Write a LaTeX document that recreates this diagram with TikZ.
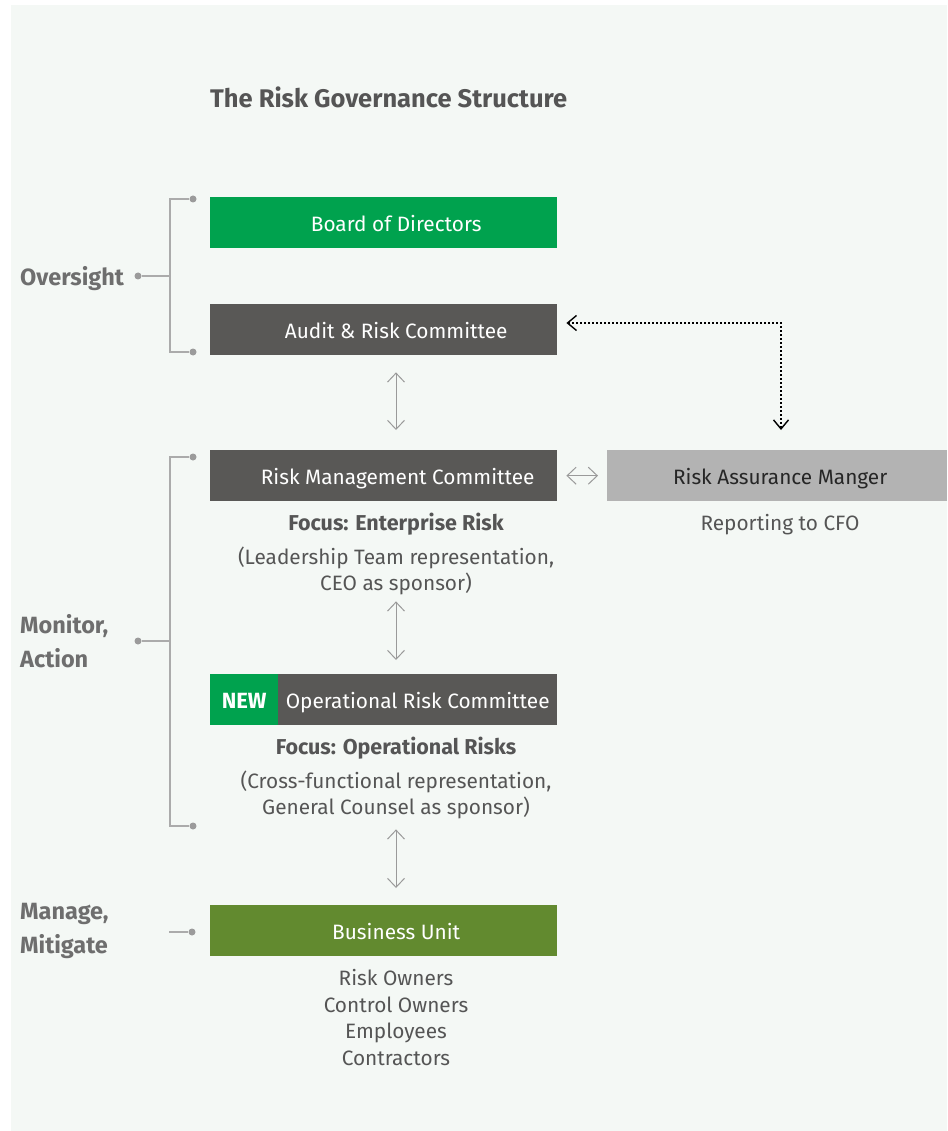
\documentclass[tikz,border=0pt]{standalone}
\usepackage{fontspec}
\setmainfont{Fira Sans}
\usetikzlibrary{arrows.meta}
\definecolor{bgc}{HTML}{F4F8F5}
\definecolor{gr}{HTML}{00A24E}
\definecolor{dk}{HTML}{595856}
\definecolor{lgb}{HTML}{B3B3B3}
\definecolor{ol}{HTML}{628A2F}
\definecolor{tx}{HTML}{555555}
\definecolor{lab}{HTML}{6E6E6E}
\definecolor{ln}{HTML}{ABABAB}
\definecolor{dotc}{HTML}{9B9B9B}
\definecolor{arr}{HTML}{9A9A9A}
\begin{document}
\begin{tikzpicture}[x=1pt,y=-1pt,
  box/.style={anchor=north west, minimum height=51pt, inner sep=0pt, text=white,
    font=\fontsize{20.8}{25}\selectfont, text height=19pt, text depth=1pt},
  bodytxt/.style={text=tx, font=\fontsize{20.8}{25.5}\selectfont, align=center, inner sep=0pt},
  focustxt/.style={text=tx, font=\bfseries\fontsize{21.5}{25}\selectfont, inner sep=0pt, text height=16pt, text depth=1pt},
  sidelab/.style={text=lab, font=\bfseries\fontsize{23.5}{34.5}\selectfont, align=left, inner sep=0pt, anchor=west},
  brk/.style={draw=ln, line width=1.2pt},
  dotn/.style={circle, fill=dotc, inner sep=0pt, minimum size=7pt},
  dbl/.style={draw=arr, line width=1pt, {Straight Barb[length=9pt,width=17pt]}-{Straight Barb[length=9pt,width=17pt]}},
  dotarrow/.style={draw=black, line width=1.4pt, dash pattern=on 1.4pt off 2.6pt,
    {Straight Barb[length=9pt,width=15pt]}-{Straight Barb[length=9pt,width=15pt]}}
]
\useasboundingbox (0,0) rectangle (947,1131);
\fill[white] (0,0) rectangle (947,1131);
\fill[bgc] (11,5) rectangle (947,1131);

% title
\node[anchor=west, inner sep=0pt, text=tx, font=\bfseries\fontsize{25.5}{30}\selectfont, text height=18pt, text depth=1pt] (title) at (210,99) {The Risk Governance Structure};

% boxes
\node[box, fill=gr, minimum width=347pt] (board) at (210,197) {\hspace*{25pt}Board of Directors};
\node[box, fill=dk, minimum width=347pt] (audit) at (210,304) {\hspace*{25pt}Audit \& Risk Committee};
\node[box, fill=dk, minimum width=347pt] (rmc) at (210,450) {\hspace*{28pt}Risk Management Committee};
\node[box, fill=lgb, minimum width=340pt, text=black!85] (ram) at (607,450) {\hspace*{6pt}Risk Assurance Manger};
\node[box, fill=gr, minimum width=68pt, font=\bfseries\fontsize{22}{25}\selectfont] (new) at (210,674) {NEW};
\node[box, fill=dk, minimum width=279pt] (orc) at (278,674) {Operational Risk Committee};
\node[box, fill=ol, minimum width=347pt] (bu) at (210,905) {\hspace*{25pt}Business Unit};

% texts
\node[bodytxt, text height=15pt, text depth=1pt] (cfo) at (780,523) {Reporting to CFO};
\node[focustxt] (focus1) at (396,523) {Focus: Enterprise Risk};
\node[bodytxt, anchor=north] (desc1) at (396,547) {(Leadership Team representation,\\CEO as sponsor)};
\node[focustxt] (focus2) at (396,747) {Focus: Operational Risks};
\node[bodytxt, anchor=north, font=\fontsize{20.8}{26}\selectfont] (desc2) at (396,771) {(Cross-functional representation,\\General Counsel as sponsor)};
\node[bodytxt, anchor=north, font=\fontsize{20.8}{26.7}\selectfont] (roles) at (396,969) {Risk Owners\\Control Owners\\Employees\\Contractors};

% side labels
\node[sidelab, text height=16pt, text depth=1pt] (over) at (20,278) {Oversight};
\node[sidelab] (mon) at (20,641) {Monitor,\\Action};
\node[sidelab] (man) at (20,931) {Manage,\\Mitigate};

% brackets
\node[dotn] (o1) at (193,199) {};
\node[dotn] (o2) at (193,352) {};
\node[dotn] (oc) at (138,276) {};
\draw[brk] (o1) -- (170,199) -- (170,352) -- (o2);
\draw[brk] (oc) -- (170,276);

\node[dotn] (m1) at (193,457) {};
\node[dotn] (m2) at (193,826) {};
\node[dotn] (mc) at (138,641) {};
\draw[brk] (m1) -- (170,457) -- (170,826) -- (m2);
\draw[brk] (mc) -- (170,641);

\node[dotn] (b1) at (192,932) {};
\coordinate (b0) at (169,932);
\draw[brk] (b0) -- (b1);

% arrows
\coordinate (ax) at (396,0);
\draw[dbl, shorten <=17pt, shorten >=20pt] (ax |- audit.south) -- (ax |- rmc.north);
\draw[dbl, shorten <=100pt, shorten >=14pt] (ax |- rmc.south) -- (ax |- orc.north);
\draw[dbl, shorten <=104pt, shorten >=17pt] (ax |- orc.south) -- (ax |- bu.north);
\draw[dbl, shorten <=9pt, shorten >=9pt] (rmc.east) -- (ram.west);

\coordinate (corner) at (781,323);
\draw[dotarrow, shorten <=9pt, shorten >=20pt] (audit.east |- corner) -- (corner) -- (corner |- ram.north);
\end{tikzpicture}
\end{document}
